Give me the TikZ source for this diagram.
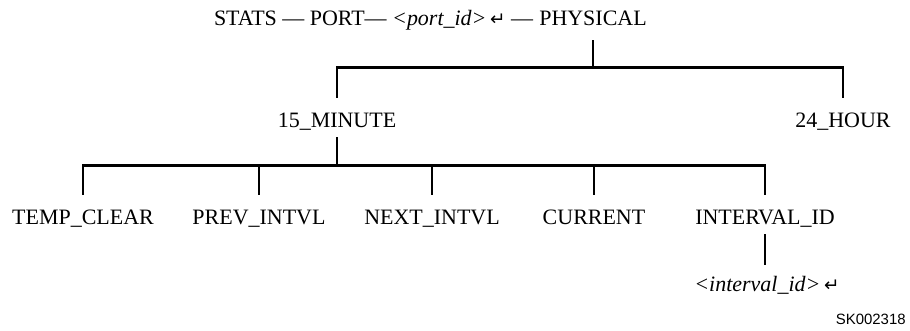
\documentclass[tikz,border=0pt]{standalone}
\usepackage{fontspec}
\setmainfont{Liberation Serif}
\setsansfont{Liberation Sans}
\newfontfamily\symfont{DejaVu Sans}
\usepackage{tikz}
\usetikzlibrary{positioning,calc}
\newcommand\retsym{{\symfont\fontsize{10.5}{10}\selectfont ↵}}

\begin{document}
\begin{tikzpicture}[
    lbl/.style={anchor=base, inner xsep=0pt, inner ysep=1.8mm, text height=4.2mm,
                text depth=0pt, font=\fontsize{12.5}{15}\selectfont},
    wire/.style={line width=1.7pt},
    tag/.style={anchor=base east, inner sep=0pt, font=\sffamily\fontsize{8.5}{10}\selectfont}
  ]
  \useasboundingbox (0mm,0mm) rectangle (182mm,66.2mm);

  % ===== Command path =====
  \node[lbl] (phys) at (118.6mm, 61mm) {PHYSICAL};
  \node[lbl, anchor=base east] (path) at ([xshift=-1.1mm]phys.base west)
    {STATS --- PORT--- \textit{<port\_id>}\,\retsym\ ---};

  % ===== Interval level =====
  \node[lbl] (min)  at (67.4mm, 40.6mm)  {15\_MINUTE};
  \node[lbl] (hour) at (168.6mm, 40.6mm) {24\_HOUR};
  \coordinate (bar1) at (0mm, 52.6mm);
  \draw[wire] ([yshift=-1mm]phys.south) -- (phys.south |- bar1);
  \draw[wire] (min.north) |- (phys.south |- bar1) -| (hour.north);

  % ===== Counter groups =====
  \node[lbl] (tmp)  at (16.6mm, 21.2mm)  {TEMP\_CLEAR};
  \node[lbl] (prev) at (51.8mm, 21.2mm)  {PREV\_INTVL};
  \node[lbl] (next) at (86.4mm, 21.2mm)  {NEXT\_INTVL};
  \node[lbl] (cur)  at (118.8mm, 21.2mm) {CURRENT};
  \node[lbl] (intv) at (153mm, 21.2mm)   {INTERVAL\_ID};
  \coordinate (bar2) at (0mm, 33mm);
  \draw[wire] (min.south) -- (min.south |- bar2);
  \draw[wire] (tmp.north) |- (intv.north |- bar2) -- (intv.north);
  \foreach \leaf in {prev,next,cur}
    \draw[wire] (\leaf.north) -- (\leaf.north |- bar2);

  % ===== Interval argument =====
  \node[lbl, text height=3.6mm] (ivid) at (153.4mm, 7.8mm)
    {\textit{<interval\_id>}\,\retsym};
  \draw[wire] (intv.south) -- (intv.south |- ivid.north);

  \node[tag] (fig) at (181.2mm, 1.2mm) {SK002318};
\end{tikzpicture}
\end{document}
